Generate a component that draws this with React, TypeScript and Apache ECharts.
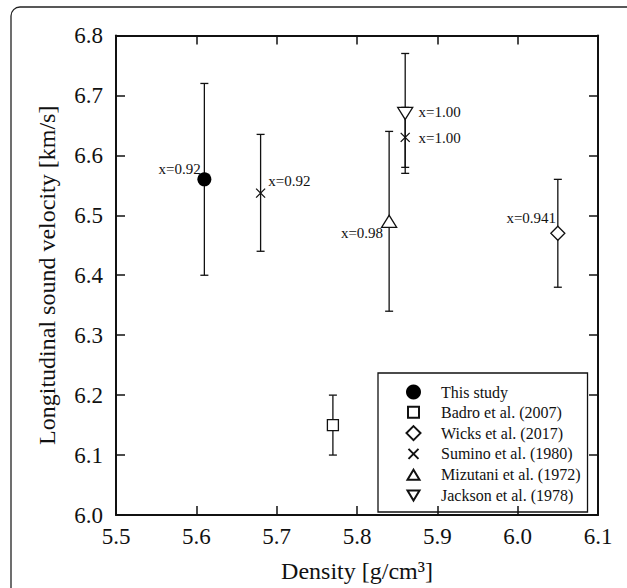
import React, { useEffect, useRef } from "react";
import * as echarts from "echarts";

// ---- data ----
const seriesNames = [
  "This study",
  "Badro et al. (2007)",
  "Wicks et al. (2017)",
  "Sumino et al. (1980)",
  "Mizutani et al. (1972)",
  "Jackson et al. (1978)",
];

// [density, velocity]
const thisStudyPts = [[5.61, 6.56]];
const badroPts = [[5.77, 6.15]];
const wicksPts = [[6.05, 6.47]];
const suminoPts = [[5.68, 6.537], [5.86, 6.63]];
const mizutaniPts = [[5.84, 6.49]];
const jacksonPts = [[5.86, 6.67]];

// [density, low, high]
const errorBars = [
  [5.61, 6.4, 6.72],
  [5.77, 6.1, 6.2],
  [6.05, 6.38, 6.56],
  [5.68, 6.44, 6.635],
  [5.86, 6.58, 6.68],
  [5.84, 6.34, 6.64],
  [5.86, 6.57, 6.77],
];

const thisStudyLabels = ["x=0.92"];
const wicksLabels = ["x=0.941"];
const suminoLabels = ["x=0.92", "x=1.00"];
const mizutaniLabels = ["x=0.98"];
const jacksonLabels = ["x=1.00"];

const xTicks = { min: 5.5, max: 6.1, step: 0.1 };
const yTicks = { min: 6.0, max: 6.8, step: 0.1 };

const FONT = "Liberation Serif";
const INK = "#111";

// legend icons padded inside a 15x15 box (moveTo-only points widen the bbox)
const legendIcons = [
  "circle",
  "path://M-2,-2M0,0L11,0L11,11L0,11Z M13,13",
  "path://M-0.5,-0.5M7,0L14,7L7,14L0,7Z M14.5,14.5",
  "path://M-2.5,-2.5M0,0L10,10M0,10L10,0M12.5,12.5",
  "path://M-1.5,-2.5M6,0L12,10L0,10Z M13.5,12.5",
  "path://M-1.5,-2.5M0,0L12,0L6,10Z M13.5,12.5",
];

function labelled(
  pts: number[][],
  labels: string[] | null,
  layouts: { align: string; offset: number[] }[]
) {
  return pts.map((p, i) => {
    if (!labels || !labels[i]) return { value: p };
    return {
      value: p,
      label: {
        show: true,
        formatter: labels[i],
        position: "inside",
        align: layouts[i].align,
        verticalAlign: "middle",
        offset: layouts[i].offset,
        fontFamily: FONT,
        fontSize: 15,
        color: INK,
      },
    };
  });
}

export default function App() {
  const ref = useRef<HTMLDivElement>(null);

  useEffect(() => {
    if (!ref.current) return;
    const chart = echarts.init(ref.current, null, { renderer: "svg" });

    const baseScatter = {
      type: "scatter",
      z: 5,
      itemStyle: { color: "#fff", borderColor: INK, borderWidth: 1.3, opacity: 1 },
      emphasis: { disabled: true },
    };

    const axisCommon = {
      type: "value",
      axisLine: { show: true, lineStyle: { color: INK, width: 2 } },
      axisTick: { show: true, inside: true, length: 9, lineStyle: { color: INK, width: 1.5 } },
      splitLine: { show: false },
    };

    const option: any = {
      animation: false,
      backgroundColor: "#fff",
      textStyle: { fontFamily: FONT },
      graphic: [
        {
          type: "rect",
          shape: { x: 11, y: 7, width: 700, height: 700, r: 9 },
          style: { fill: "none", stroke: "#222", lineWidth: 1.3 },
          silent: true,
        },
      ],
      grid: { left: 116, top: 35.5, width: 482, height: 482, containLabel: false },
      xAxis: [
        {
          ...axisCommon,
          position: "bottom",
          min: xTicks.min,
          max: xTicks.max,
          interval: xTicks.step,
          axisLabel: {
            margin: 10,
            fontFamily: FONT,
            fontSize: 23,
            color: INK,
            formatter: (v: number) => v.toFixed(1),
          },
          name: "Density [g/cm³]",
          nameLocation: "middle",
          nameGap: 44,
          nameTextStyle: { fontFamily: FONT, fontSize: 24, color: INK },
        },
        {
          ...axisCommon,
          position: "top",
          min: xTicks.min,
          max: xTicks.max,
          interval: xTicks.step,
          axisLabel: { show: false },
        },
      ],
      yAxis: [
        {
          ...axisCommon,
          position: "left",
          min: yTicks.min,
          max: yTicks.max,
          interval: yTicks.step,
          axisLabel: {
            margin: 13,
            fontFamily: FONT,
            fontSize: 23,
            color: INK,
            formatter: (v: number) => v.toFixed(1),
          },
          name: "Longitudinal sound velocity [km/s]",
          nameLocation: "middle",
          nameGap: 57,
          nameTextStyle: { fontFamily: FONT, fontSize: 24, color: INK },
        },
        {
          ...axisCommon,
          position: "right",
          min: yTicks.min,
          max: yTicks.max,
          interval: yTicks.step,
          axisLabel: { show: false },
        },
      ],
      legend: {
        data: seriesNames.map((n, i) => ({ name: n, icon: legendIcons[i] })),
        orient: "vertical",
        left: 378,
        top: 373,
        padding: [11, 7, 8, 27],
        itemWidth: 15,
        itemHeight: 15,
        itemGap: 3.8,
        borderColor: INK,
        borderWidth: 1.3,
        borderRadius: 0,
        selectedMode: false,
        textStyle: {
          fontFamily: FONT,
          fontSize: 16,
          color: INK,
          lineHeight: 15,
          padding: [0, 0, 0, 15],
        },
      },
      series: [
        {
          type: "custom",
          name: "errors",
          z: 2,
          silent: true,
          data: errorBars,
          encode: { x: 0, y: [1, 2] },
          renderItem: (_params: any, api: any) => {
            const x = api.value(0);
            const lo = api.coord([x, api.value(1)]);
            const hi = api.coord([x, api.value(2)]);
            const w = 4;
            const style = { stroke: INK, lineWidth: 1.3 };
            return {
              type: "group",
              children: [
                { type: "line", shape: { x1: lo[0], y1: lo[1], x2: hi[0], y2: hi[1] }, style },
                { type: "line", shape: { x1: lo[0] - w, y1: lo[1], x2: lo[0] + w, y2: lo[1] }, style },
                { type: "line", shape: { x1: hi[0] - w, y1: hi[1], x2: hi[0] + w, y2: hi[1] }, style },
              ],
            };
          },
        },
        {
          ...baseScatter,
          name: seriesNames[0],
          symbol: "circle",
          symbolSize: 14,
          itemStyle: { color: "#000", borderColor: "#000", borderWidth: 0, opacity: 1 },
          data: labelled(thisStudyPts, thisStudyLabels, [{ align: "right", offset: [-3.6, -10.7] }]),
        },
        {
          ...baseScatter,
          name: seriesNames[1],
          symbol: "rect",
          symbolSize: 11,
          data: labelled(badroPts, null, []),
        },
        {
          ...baseScatter,
          name: seriesNames[2],
          symbol: "diamond",
          symbolSize: 14,
          data: labelled(wicksPts, wicksLabels, [{ align: "right", offset: [-1.7, -15] }]),
        },
        {
          ...baseScatter,
          name: seriesNames[3],
          symbol: "path://M0,0L10,10M0,10L10,0",
          symbolSize: 9,
          data: labelled(suminoPts, suminoLabels, [
            { align: "left", offset: [7.6, -11.7] },
            { align: "left", offset: [13.3, 0.6] },
          ]),
        },
        {
          ...baseScatter,
          name: seriesNames[4],
          symbol: "triangle",
          symbolSize: [15, 12],
          data: labelled(mizutaniPts, mizutaniLabels, [{ align: "right", offset: [-6, 11.7] }]),
        },
        {
          ...baseScatter,
          name: seriesNames[5],
          symbol: "triangle",
          symbolRotate: 180,
          symbolSize: [15, 12],
          data: labelled(jacksonPts, jacksonLabels, [{ align: "left", offset: [13.3, -1] }]),
        },
      ],
    };

    chart.setOption(option);
    return () => chart.dispose();
  }, []);

  return (
    <div
      ref={ref}
      style={{ position: "fixed", left: 0, top: 0, width: 627, height: 588, background: "#fff" }}
    />
  );
}
